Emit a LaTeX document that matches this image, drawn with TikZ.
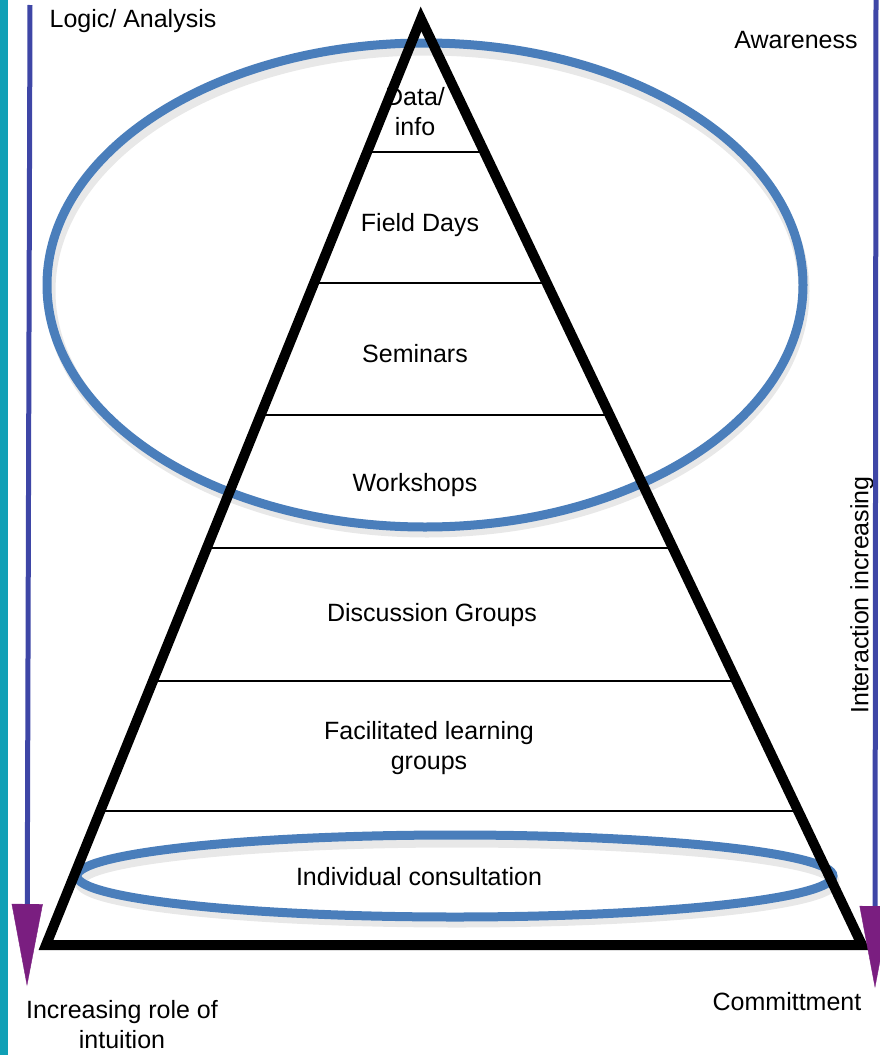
\documentclass[tikz,border=0pt]{standalone}
\usepackage{fontspec}
\setmainfont{Liberation Sans}
\usepackage{tikz}
\usetikzlibrary{arrows.meta}
\usetikzlibrary{calc}

\definecolor{tealbar}{RGB}{16,160,182}
\definecolor{ringblue}{RGB}{74,126,187}
\definecolor{axisblue}{RGB}{62,70,166}
\definecolor{tipviolet}{RGB}{122,30,128}

\begin{document}
\begin{tikzpicture}[x=1pt, y=-1pt, thick,
    label/.style = {font=\fontsize{25}{30}\selectfont, align=center, inner sep=0pt},
    tier/.style = {line width=1.5pt},
    ring/.style = {draw=ringblue, line width=9pt},
    ringshadow/.style = {draw=black, opacity=0.09, line width=11pt},
    axis/.style = {draw=axisblue, line width=5pt,
        -{Triangle[length=82pt, width=31pt, line width=0.4pt, color=tipviolet]}}]
    \useasboundingbox (0,0) rectangle (880,1055);
    \fill[tealbar] (0,0) rectangle (8,1055);

    % Rings
    \draw[ringshadow] (427,291) ellipse [x radius=377pt, y radius=241pt];
    \draw[ring] (425,285) ellipse [x radius=378pt, y radius=242pt];
    \draw[ringshadow] (457,882) ellipse [x radius=377pt, y radius=40pt];
    \draw[ring] (455,876) ellipse [x radius=378pt, y radius=41pt];

    % Pyramid
    \coordinate (top) at (421,19);
    \coordinate (bl) at (46,945);
    \coordinate (br) at (862,945);
    \draw[line width=10pt, line join=miter] (top) -- (bl) -- (br) -- cycle;
    \foreach \t in {0.1436,0.2851,0.4276,0.5713,0.7149,0.8553}
      \draw[tier] ($(top)!\t!(bl)$) -- ($(top)!\t!(br)$);

    % Nodes
    \node[label] (data) at (415,112) {Data/\\info};
    \node[label] (field) at (420,225) {Field Days};
    \node[label] (seminar) at (415,354) {Seminars};
    \node[label] (workshop) at (415,485) {Workshops};
    \node[label] (discuss) at (432,615) {Discussion Groups};
    \node[label] (facil) at (429,748) {Facilitated learning\\groups};
    \node[label] (consult) at (419,877) {Individual consultation};

    \node[label] (logic) at (133,21) {Logic/ Analysis};
    \node[label] (aware) at (796,40) {Awareness};
    \node[label, rotate=90] (interact) at (862,595) {Interaction increasing};
    \node[label] (intuit) at (122,1025) {Increasing role of\\intuition};
    \node[label] (commit) at (787,1002) {Committment};

    % Edges
    \coordinate (ltop) at (30,5);
    \coordinate (lbot) at (27,986);
    \coordinate (rtop) at (876,0);
    \coordinate (rbot) at (875,988);
    \draw[axis] (ltop) -- (lbot);
    \draw[axis] (rtop) -- (rbot);

\end{tikzpicture}
\end{document}
